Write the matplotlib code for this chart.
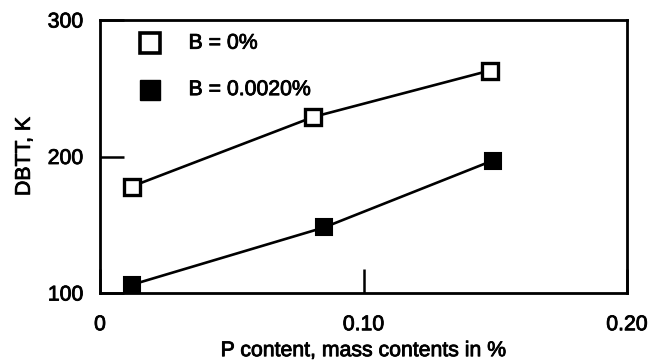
import matplotlib
matplotlib.use("Agg")
import matplotlib.pyplot as plt
import matplotlib.patheffects as pe

# Data
p_open = [0.012, 0.081, 0.148]
dbtt_open = [178, 229, 263]
p_filled = [0.012, 0.085, 0.149]
dbtt_filled = [106, 148, 197]

xticks = [0, 0.10, 0.20]
xticklabels = ["0", "0.10", "0.20"]
yticks = [100, 200, 300]
yticklabels = ["100", "200", "300"]

plt.rcParams['font.family'] = ['Liberation Sans', 'DejaVu Sans']
heavy = [pe.withStroke(linewidth=0.6, foreground='black')]

fig = plt.figure(figsize=(6.48, 3.61), dpi=100)
ax = fig.add_axes([100/648, 1-293/361, 527/648, 273/361])

ax.plot(p_open, dbtt_open, color='black', lw=1.9, marker='s', ms=12,
        mfc='white', mec='black', mew=2.4, zorder=3)
ax.plot(p_filled, dbtt_filled, color='black', lw=1.9, marker='s', ms=12,
        mfc='black', mec='black', mew=1.5, zorder=3)

ax.set_xlim(0, 0.2)
ax.set_ylim(100, 300)
ax.set_xticks(xticks)
ax.set_xticklabels(xticklabels)
ax.set_yticks(yticks)
ax.set_yticklabels(yticklabels)
ax.tick_params(axis='both', direction='in', length=17, width=1.8, labelsize=15.3)
ax.tick_params(axis='x', pad=16)
ax.tick_params(axis='y', pad=12)
for s in ax.spines.values():
    s.set_linewidth(2.0)
for lab in ax.get_xticklabels() + ax.get_yticklabels():
    lab.set_path_effects(heavy)

ax.set_xlabel("P content, mass contents in %", fontsize=15.3, labelpad=5,
              path_effects=heavy)
ax.set_ylabel("DBTT, K", fontsize=15.3, labelpad=10, path_effects=heavy)

# Legend drawn manually in axes coords
ax.plot([0.095], [0.915], transform=ax.transAxes, marker='s', ms=14,
        mfc='white', mec='black', mew=2.6, ls='none', clip_on=False)
ax.text(0.168, 0.915, "B = 0%", transform=ax.transAxes, fontsize=15.3,
        va='center', path_effects=heavy)
ax.plot([0.095], [0.745], transform=ax.transAxes, marker='s', ms=15,
        mfc='black', mec='black', ls='none', clip_on=False)
ax.text(0.168, 0.745, "B = 0.0020%", transform=ax.transAxes, fontsize=15.3,
        va='center', path_effects=heavy)

fig.savefig("out.png", dpi=100)
